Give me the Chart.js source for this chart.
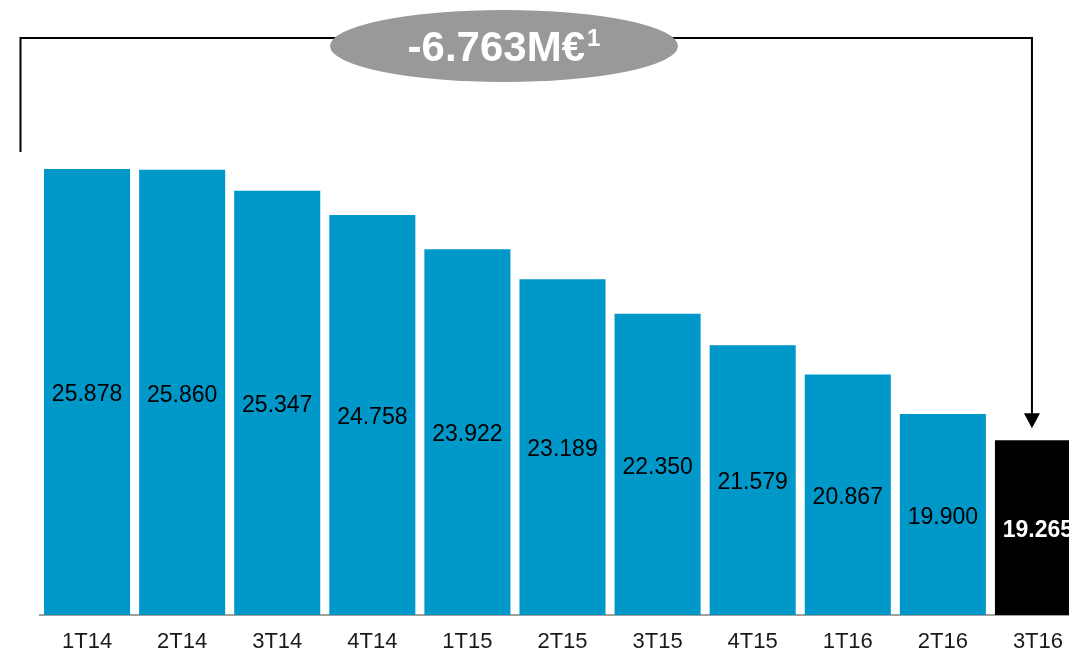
<!DOCTYPE html>
<html>
<head>
<meta charset="utf-8">
<script src="https://cdn.jsdelivr.net/npm/chart.js@4/dist/chart.umd.min.js"></script>
<style>
html,body{margin:0;padding:0;background:#fff;overflow:hidden;width:1069px;height:648px;}
#wrap{position:absolute;left:0;top:0;width:1090px;height:648px;}
</style>
</head>
<body>
<div id="wrap"><canvas id="c" width="1090" height="648"></canvas></div>
<script>
const categories = ['1T14','2T14','3T14','4T14','1T15','2T15','3T15','4T15','1T16','2T16','3T16'];
const values = [25.878, 25.860, 25.347, 24.758, 23.922, 23.189, 22.350, 21.579, 20.867, 19.900, 19.265];
const valueLabels = ['25.878','25.860','25.347','24.758','23.922','23.189','22.350','21.579','20.867','19.900','19.265'];
const highlightIndex = 10;
const changeLabel = '-6.763M€';
const changeNote = '1';

const BLUE = '#0097C9';
const barColors = values.map((v,i)=> i===highlightIndex ? '#000000' : BLUE);

const overlayPlugin = {
  id:'overlay',
  afterDraw(chart){
    const ctx = chart.ctx;
    const xs = chart.scales.x;
    const ys = chart.scales.y;
    const baseY = ys.getPixelForValue(ys.min);
    ctx.save();
    ctx.textAlign='center';
    ctx.textBaseline='middle';
    values.forEach((v,i)=>{
      const hl = i===highlightIndex;
      const x = xs.getPixelForValue(i);
      const top = ys.getPixelForValue(v);
      ctx.font = (hl?'bold ':'') + '23px "Liberation Sans", Arial, sans-serif';
      ctx.fillStyle = hl ? '#ffffff' : '#000000';
      ctx.fillText(valueLabels[i], x, (top+baseY)/2 + 3);
    });
    ctx.restore();

    const ca = chart.chartArea;
    const lastX = xs.getPixelForValue(highlightIndex);
    const lastTop = ys.getPixelForValue(values[highlightIndex]);
    const leftX = ca.left - 19;
    const rightX = lastX - 6;
    const topY = 38;
    const tipY = lastTop - 12;
    ctx.save();
    ctx.strokeStyle='#000';
    ctx.lineWidth=2;
    ctx.beginPath();
    ctx.moveTo(leftX, 152);
    ctx.lineTo(leftX, topY);
    ctx.lineTo(rightX, topY);
    ctx.lineTo(rightX, tipY-14);
    ctx.stroke();
    ctx.fillStyle='#000';
    ctx.beginPath();
    ctx.moveTo(rightX-8, tipY-15);
    ctx.lineTo(rightX+8, tipY-15);
    ctx.lineTo(rightX, tipY);
    ctx.closePath();
    ctx.fill();
    const cx = 504, cy = 46;
    ctx.fillStyle='#999999';
    ctx.beginPath();
    ctx.ellipse(cx, cy, 174, 36, 0, 0, Math.PI*2);
    ctx.fill();
    ctx.fillStyle='#ffffff';
    ctx.textBaseline='middle';
    ctx.font='bold 42px "Liberation Sans", Arial, sans-serif';
    const w1 = ctx.measureText(changeLabel).width;
    ctx.font='bold 24px "Liberation Sans", Arial, sans-serif';
    const w2 = ctx.measureText(changeNote).width;
    const startX = cx - (w1+w2+2)/2;
    ctx.textAlign='left';
    ctx.font='bold 42px "Liberation Sans", Arial, sans-serif';
    ctx.fillText(changeLabel, startX, cy+3);
    ctx.font='bold 24px "Liberation Sans", Arial, sans-serif';
    ctx.fillText(changeNote, startX + w1 + 2, cy-7);
    ctx.restore();
  }
};

new Chart(document.getElementById('c'), {
  type:'bar',
  data:{
    labels: categories,
    datasets:[{
      data: values,
      backgroundColor: barColors,
      borderWidth:0,
      barPercentage:0.905,
      categoryPercentage:1.0
    }]
  },
  options:{
    responsive:false,
    animation:false,
    events:[],
    layout:{padding:{left:39.5, right:4.5, top:164, bottom:0}},
    plugins:{legend:{display:false}, tooltip:{enabled:false}},
    scales:{
      x:{
        grid:{display:false, drawTicks:false},
        border:{display:true, color:'#a0a0a0', width:2},
        ticks:{color:'#1a1a1a', font:{family:'"Liberation Sans", Arial, sans-serif', size:22}, padding:14, maxRotation:0, autoSkip:false},
        afterFit(scale){ scale.height = 33; }
      },
      y:{
        display:false,
        min:15,
        max:26
      }
    }
  },
  plugins:[overlayPlugin]
});
</script>
</body>
</html>
